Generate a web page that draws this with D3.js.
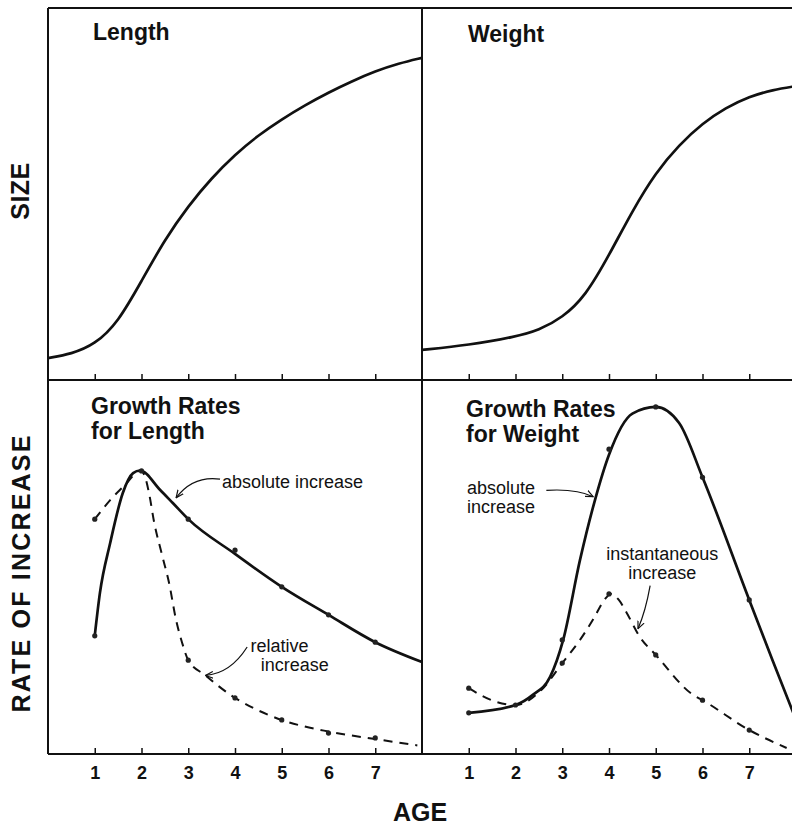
<!DOCTYPE html>
<html>
<head>
<meta charset="utf-8">
<script src="https://cdn.jsdelivr.net/npm/d3@7"></script>
<style>
  body { margin: 0; background: #fff; }
  text { font-family: "Liberation Sans", Arial, Helvetica, sans-serif; fill: #111; }
  .title { font-size: 23px; font-weight: bold; }
  .note { font-size: 18px; }
  .bigLabel { font-size: 25px; font-weight: bold; }
  .tick text { font-size: 18px; font-weight: bold; }
</style>
</head>
<body>
<div id="chart"></div>
<script>
// data
var ageTicks = [1, 2, 3, 4, 5, 6, 7];

// size curves (arbitrary units 0-100)
var lengthSizeAge = [0, 0.5, 1, 1.5, 2, 2.5, 3, 3.5, 4, 4.5, 5, 5.5, 6, 6.5, 7, 7.5, 8];
var lengthSize = [5.9, 7, 9.5, 15.5, 26.6, 37.8, 46.8, 54.3, 60.6, 65.8, 70.1, 73.9, 77.3, 80.3, 83, 85.1, 86.6];

var weightSizeAge = [0, 1, 2, 2.5, 3, 3.5, 4, 4.5, 5, 5.5, 6, 6.5, 7, 7.5, 8];
var weightSize = [8.1, 9.4, 11.6, 13.4, 16.7, 22.6, 33.5, 45.5, 55.8, 63.2, 69, 73.2, 76.2, 78, 79];

// growth rates for length
var lenAbsAge = [1, 1.11, 1.33, 1.6, 1.82, 1.97, 2.4, 2.67, 3, 4, 5, 6, 7, 8];
var lenAbs = [31.6, 43, 56.4, 69.8, 75.1, 75.8, 70.6, 67.1, 62.8, 53.5, 44.7, 37.2, 29.9, 24.6];
var lenAbsDotAge = [1, 2, 3, 4, 5, 6, 7];
var lenAbsDot = [31.6, 75.7, 62.8, 54.5, 44.7, 37.2, 29.9];

var lenRelAge = [1, 1.33, 1.69, 1.9, 1.97, 2.06, 2.16, 2.27, 2.44, 2.59, 2.74, 2.87, 3, 3.36, 4, 4.39, 5, 6, 7, 7.9];
var lenRel = [62.8, 67.9, 72.5, 75.4, 75.8, 74.6, 69.8, 62, 53.2, 45.7, 35.8, 29.7, 25.1, 21.1, 15, 12.3, 9.1, 6, 4, 2.3];
var lenRelDotAge = [1, 3, 4, 5, 6, 7];
var lenRelDot = [62.8, 25.1, 15, 9.1, 5.6, 4.3];

// growth rates for weight
var wtAbsAge = [1, 2, 2.37, 2.74, 3.02, 3.38, 3.7, 4, 4.5, 5, 5.5, 6, 7, 7.5, 8.1];
var wtAbs = [11, 13.1, 15.8, 20.6, 30.5, 51.9, 67.9, 80, 91, 92.8, 88.5, 74, 41.2, 25, 6];
var wtAbsDotAge = [1, 2, 3, 4, 5, 6, 7];
var wtAbsDot = [11, 13.1, 30.5, 81.5, 92.8, 74, 41.2];

var wtInstAge = [1, 1.6, 2, 2.59, 3, 3.38, 3.68, 3.9, 4.04, 4.21, 4.38, 4.66, 5, 5.8, 6, 7, 7.8];
var wtInst = [17.6, 13.9, 13.1, 17.6, 24.3, 30.5, 36.4, 41.2, 42.8, 41.2, 37.7, 31.3, 26.5, 15.8, 14.4, 6.4, 1.6];
var wtInstDotAge = [1, 3, 4, 5, 6, 7];
var wtInstDot = [17.6, 24.3, 42.8, 26.5, 14.4, 6.4];

// initial setup
var svgWidth = 792;
var svgHeight = 827;

var svg = d3.select("#chart")
  .append("svg")
  .attr("width", svgWidth)
  .attr("height", svgHeight);

// panel geometry
var leftX = 48, midX = 422, rightX = 796;
var topY = 8, midY = 380, bottomY = 754;

// scales
var xL = d3.scaleLinear().domain([0, 8]).range([leftX, midX]);
var xR = d3.scaleLinear().domain([0, 8]).range([midX, rightX]);
var ySize = d3.scaleLinear().domain([0, 100]).range([midY, topY]);
var yRate = d3.scaleLinear().domain([0, 100]).range([bottomY, midY]);

// frame
var frame = svg.append("g").attr("stroke", "#111").attr("stroke-width", 2).attr("fill", "none");
frame.append("line").attr("x1", leftX).attr("x2", svgWidth).attr("y1", topY).attr("y2", topY);
frame.append("line").attr("x1", leftX).attr("x2", svgWidth).attr("y1", midY).attr("y2", midY);
frame.append("line").attr("x1", leftX).attr("x2", svgWidth).attr("y1", bottomY).attr("y2", bottomY);
frame.append("line").attr("x1", leftX).attr("x2", leftX).attr("y1", topY).attr("y2", bottomY);
frame.append("line").attr("x1", midX).attr("x2", midX).attr("y1", topY).attr("y2", bottomY);

// axes (ticks point up)
function tickAxis(scale, y, labels) {
  var ax = d3.axisBottom(scale)
    .tickValues(ageTicks)
    .tickSizeInner(-6)
    .tickSizeOuter(0)
    .tickPadding(12);
  if (!labels) ax.tickFormat("");
  var g = svg.append("g")
    .attr("transform", `translate(0, ${y})`)
    .call(ax);
  g.select(".domain").remove();
  g.selectAll(".tick line").attr("stroke", "#111").attr("stroke-width", 1.5);
  return g;
}
tickAxis(xL, midY, false);
tickAxis(xR, midY, false);
tickAxis(xL, bottomY, true);
tickAxis(xR, bottomY, true);

// curves
function zip(a, b) { return a.map((d, i) => [d, b[i]]); }

function drawCurve(xs, ys, ages, vals, dashed, curve) {
  var line = d3.line()
    .x(d => xs(d[0]))
    .y(d => ys(d[1]))
    .curve(curve || d3.curveMonotoneX);
  svg.append("path")
    .datum(zip(ages, vals))
    .attr("d", line)
    .attr("fill", "none")
    .attr("stroke", "#111")
    .attr("stroke-width", dashed ? 2 : 2.7)
    .attr("stroke-dasharray", dashed ? "9,7" : null);
}

function drawDots(xs, ys, ages, vals) {
  svg.append("g").selectAll("circle")
    .data(zip(ages, vals))
    .enter()
    .append("circle")
    .attr("cx", d => xs(d[0]))
    .attr("cy", d => ys(d[1]))
    .attr("r", 2.6)
    .attr("fill", "#222");
}

drawCurve(xL, ySize, lengthSizeAge, lengthSize, false, d3.curveBasis);
drawCurve(xR, ySize, weightSizeAge, weightSize, false, d3.curveBasis);

drawCurve(xL, yRate, lenAbsAge, lenAbs, false);
drawCurve(xL, yRate, lenRelAge, lenRel, true);
drawDots(xL, yRate, lenAbsDotAge, lenAbsDot);
drawDots(xL, yRate, lenRelDotAge, lenRelDot);

drawCurve(xR, yRate, wtAbsAge, wtAbs, false);
drawCurve(xR, yRate, wtInstAge, wtInst, true);
drawDots(xR, yRate, wtAbsDotAge, wtAbsDot);
drawDots(xR, yRate, wtInstDotAge, wtInstDot);

// titles
svg.append("text").attr("class", "title").attr("x", 93).attr("y", 40).text("Length");
svg.append("text").attr("class", "title").attr("x", 468).attr("y", 42).text("Weight");
svg.append("text").attr("class", "title").attr("x", 91).attr("y", 414).text("Growth Rates");
svg.append("text").attr("class", "title").attr("x", 91).attr("y", 439).text("for Length");
svg.append("text").attr("class", "title").attr("x", 466).attr("y", 417).text("Growth Rates");
svg.append("text").attr("class", "title").attr("x", 466).attr("y", 442).text("for Weight");

// annotations with leader arrows
svg.append("defs").append("marker")
  .attr("id", "arrow")
  .attr("viewBox", "0 0 10 10")
  .attr("refX", 9).attr("refY", 5)
  .attr("markerWidth", 7).attr("markerHeight", 7)
  .attr("orient", "auto-start-reverse")
  .append("path")
  .attr("d", "M0,1 L9,5 L0,9")
  .attr("fill", "none")
  .attr("stroke", "#111")
  .attr("stroke-width", 1.4);

function leader(x1, y1, cx, cy, x2, y2) {
  var p = d3.path();
  p.moveTo(x1, y1);
  p.quadraticCurveTo(cx, cy, x2, y2);
  svg.append("path")
    .attr("d", p.toString())
    .attr("fill", "none")
    .attr("stroke", "#111")
    .attr("stroke-width", 1.2)
    .attr("marker-end", "url(#arrow)");
}

svg.append("text").attr("class", "note").attr("x", xL(3.72)).attr("y", 488).text("absolute increase");
leader(xL(3.68), yRate(73.5), xL(3.1), yRate(74.5), xL(2.74), yRate(68.5));

svg.append("text").attr("class", "note").attr("x", xL(4.33)).attr("y", 652).text("relative");
svg.append("text").attr("class", "note").attr("x", xL(4.55)).attr("y", 671).text("increase");
leader(xL(4.26), yRate(28.6), xL(3.9), yRate(21.5), xL(3.37), yRate(21));

svg.append("text").attr("class", "note").attr("x", 467).attr("y", 494).text("absolute");
svg.append("text").attr("class", "note").attr("x", 467).attr("y", 513).text("increase");
leader(xR(2.66), yRate(70.5), xR(3.3), yRate(71), xR(3.66), yRate(68.8));

svg.append("text").attr("class", "note").attr("x", xR(5.14)).attr("y", 560).attr("text-anchor", "middle").text("instantaneous");
svg.append("text").attr("class", "note").attr("x", xR(5.14)).attr("y", 579).attr("text-anchor", "middle").text("increase");
leader(xR(4.88), yRate(45), xR(4.78), yRate(38), xR(4.62), yRate(33.5));

// axis labels
svg.append("text")
  .attr("class", "bigLabel")
  .attr("transform", "translate(29, 191) rotate(-90)")
  .attr("text-anchor", "middle")
  .attr("letter-spacing", "0.5px")
  .text("SIZE");

svg.append("text")
  .attr("class", "bigLabel")
  .attr("transform", "translate(30, 573) rotate(-90)")
  .attr("text-anchor", "middle")
  .attr("letter-spacing", "2.2px")
  .text("RATE OF INCREASE");

svg.append("text")
  .attr("class", "bigLabel")
  .attr("x", 420)
  .attr("y", 821)
  .attr("text-anchor", "middle")
  .text("AGE");
</script>
</body>
</html>
